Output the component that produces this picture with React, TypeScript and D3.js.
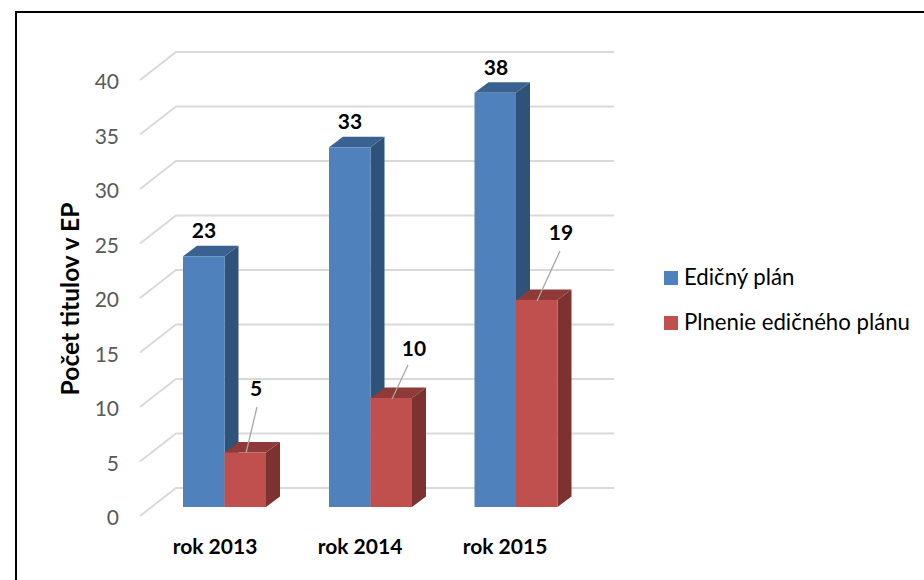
import React from "react";
import * as d3 from "d3";

const categories = ["rok 2013", "rok 2014", "rok 2015"];
const planValues = [23, 33, 38];
const fulfilledValues = [5, 10, 19];
const yTicks = [0, 5, 10, 15, 20, 25, 30, 35, 40];
const seriesNames = ["Edičný plán", "Plnenie edičného plánu"];
const yTitle = "Počet titulov v EP";
const FONT = "Lato, Carlito, 'Open Sans', sans-serif";

const y = d3.scaleLinear().domain([0, 40]).range([507, 71]);
const dx = 14;
const dy = 10.5;
const BLUE = ["#4f81bd", "#3a6290", "#2f5279"];
const RED = ["#c0504d", "#8e3a38", "#7c3230"];
const GRID = "#d9d9d9";

function Bar({ x0, w, v, col }: { x0: number; w: number; v: number; col: string[] }) {
  const t = y(v);
  const b = y(0);
  return (
    <g>
      <polygon points={`${x0 + w},${t} ${x0 + w + dx},${t - dy} ${x0 + w + dx},${b - dy} ${x0 + w},${b}`} fill={col[2]} />
      <polygon points={`${x0},${t} ${x0 + dx},${t - dy} ${x0 + w + dx},${t - dy} ${x0 + w},${t}`} fill={col[1]} />
      <rect x={x0} y={t} width={w} height={b - t} fill={col[0]} />
    </g>
  );
}

export default function App() {
  const bw = 41.5;
  const starts = [183, 329, 474.5];
  const leaders = [
    [257, 407, 246, 453],
    [408, 365, 392, 399],
    [560, 251, 537, 301],
  ];
  const fulfilledLabels = [
    [256, 396],
    [414, 356],
    [561, 240],
  ];
  return (
    <svg width={924} height={580} style={{ position: "absolute", left: 0, top: 0 }} fontFamily={FONT}>
      <path d="M16,580 V12 H924" fill="none" stroke="#000" strokeWidth={2} />
      {yTicks.map((t) => (
        <path key={t} d={`M140,${y(t) + 9} L176,${y(t) - 19} H614`} stroke={GRID} strokeWidth={2} fill="none" />
      ))}
      {yTicks.map((t) => (
        <text key={t} x={119} y={y(t) + 18} textAnchor="end" fontSize={21} fill="#595959">{t}</text>
      ))}
      {categories.map((c, i) => (
        <g key={c}>
          <Bar x0={starts[i]} w={bw} v={planValues[i]} col={BLUE} />
          <Bar x0={starts[i] + bw} w={bw} v={fulfilledValues[i]} col={RED} />
        </g>
      ))}
      {categories.map((c, i) => (
        <g key={c}>
          <line x1={leaders[i][0]} y1={leaders[i][1]} x2={leaders[i][2]} y2={leaders[i][3]} stroke="#a6a6a6" strokeWidth={1.3} />
          <text x={[204, 350, 496][i]} y={y(planValues[i]) - 18} textAnchor="middle" fontSize={21} fontWeight={700} fill="#000">{planValues[i]}</text>
          <text x={fulfilledLabels[i][0]} y={fulfilledLabels[i][1]} textAnchor="middle" fontSize={21} fontWeight={700} fill="#000">{fulfilledValues[i]}</text>
          <text x={[215, 360, 505][i]} y={554} textAnchor="middle" fontSize={21} fontWeight={700} fill="#000">{c}</text>
        </g>
      ))}
      <text transform="translate(79,299) rotate(-90)" textAnchor="middle" fontSize={24.6} fontWeight={700} fill="#000">{yTitle}</text>
      {seriesNames.map((s, i) => (
        <g key={s}>
          <rect x={664} y={271 + i * 45} width={14} height={14} fill={i === 0 ? BLUE[0] : RED[0]} />
          <text x={684} y={285 + i * 45} fontSize={22.2} fill="#000">{s}</text>
        </g>
      ))}
    </svg>
  );
}
